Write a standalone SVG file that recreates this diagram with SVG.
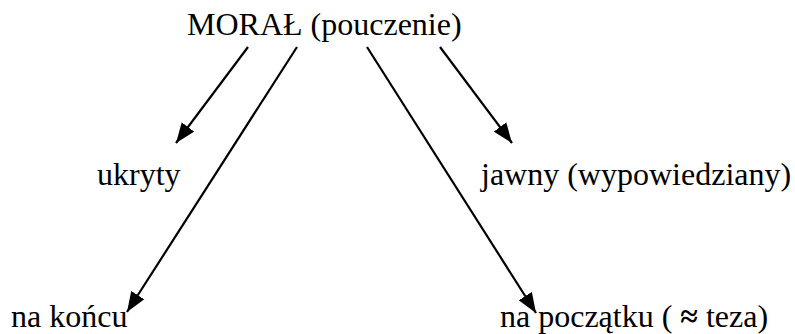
<svg xmlns="http://www.w3.org/2000/svg" width="795" height="334" viewBox="0 0 795 334">
<style>
.t{font-family:'Liberation Serif','Times New Roman',Times,serif;font-size:32px;fill:#000}
.c line{stroke:#000;stroke-width:2.2;marker-end:url(#ah)}
</style>
<defs>
<marker id="ah" markerUnits="userSpaceOnUse" markerWidth="20" markerHeight="16" refX="18" refY="7" orient="auto" viewBox="0 0 18 14">
<path d="M0,0 L18,7 L0,14 Z" fill="#000"/>
</marker>
</defs>
<rect width="795" height="334" fill="#fff"/>
<g id="moral"><text class="t" font-family="Liberation Serif, serif" x="187" y="35">MORAŁ (pouczenie)</text></g>
<g id="ukryty"><text class="t" font-family="Liberation Serif, serif" x="97" y="185">ukryty</text></g>
<g id="jawny"><text class="t" font-family="Liberation Serif, serif" x="481" y="185">jawny (wypowiedziany)</text></g>
<g id="na-koncu"><text class="t" font-family="Liberation Serif, serif" x="11" y="327">na końcu</text></g>
<g id="na-poczatku"><text class="t" font-family="Liberation Serif, serif" x="500" y="327">na początku ( <tspan font-weight="bold">≈</tspan> teza)</text></g>
<g class="c" id="connectors">
<line x1="248" y1="47" x2="176" y2="143"/>
<line x1="297" y1="47" x2="127" y2="312"/>
<line x1="367" y1="47" x2="536" y2="313"/>
<line x1="440" y1="47" x2="512" y2="143"/>
</g>
</svg>
